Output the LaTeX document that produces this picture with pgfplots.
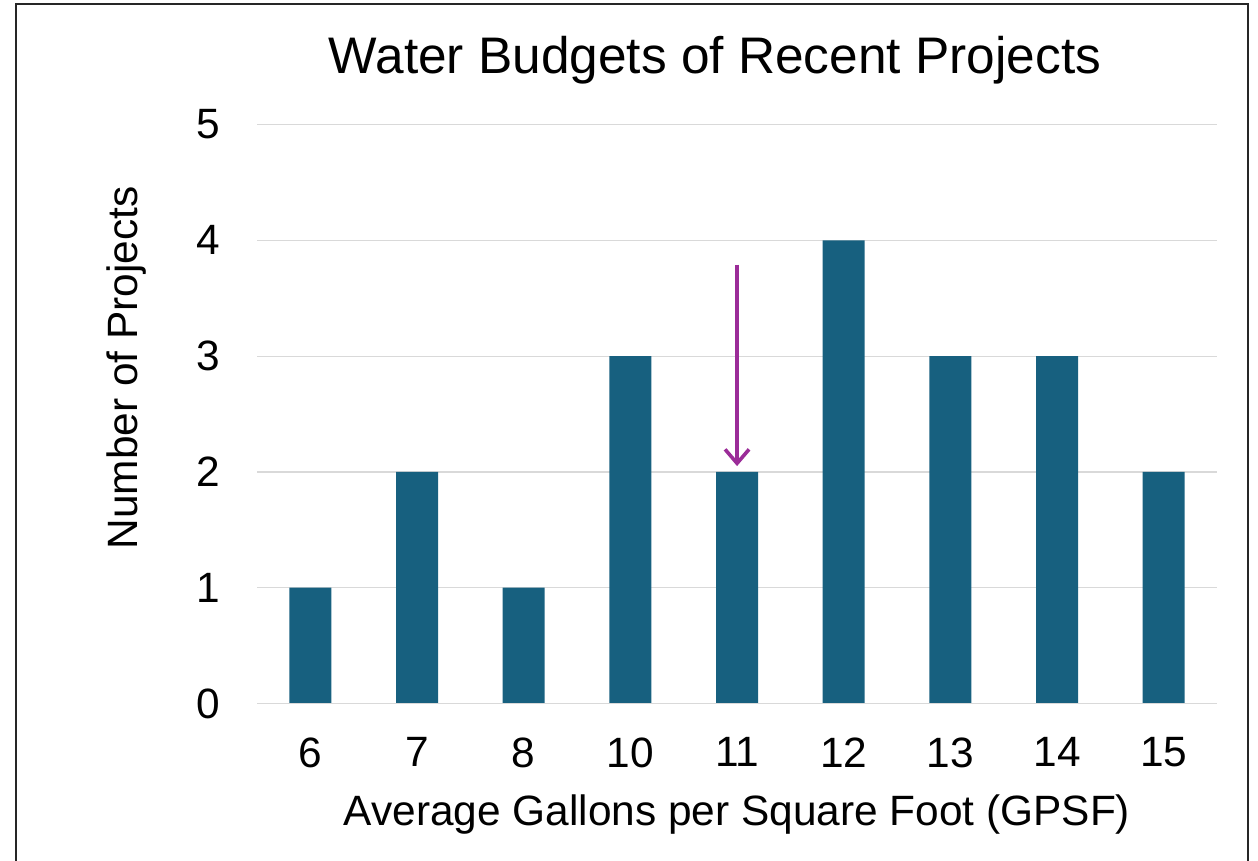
\documentclass[border=0pt]{standalone}
\usepackage{pgfplots}
\pgfplotsset{compat=1.18}
\usepackage{fontspec}
\setmainfont{Liberation Sans}
\usetikzlibrary{arrows.meta}
\definecolor{barblue}{HTML}{17607F}
\definecolor{gridgray}{HTML}{D9D9D9}
\definecolor{arrowpurple}{HTML}{9B2C98}
\begin{document}
\begin{tikzpicture}[x=0.5pt,y=0.5pt]
\useasboundingbox (0,0) rectangle (1258,861);
\draw[line width=1.2pt,black!85] (16,0) -- (16,857) -- (1248,857) -- (1248,0);
\node[font=\fontsize{25.7}{30}\selectfont] at (715,801) {Water Budgets of Recent Projects};
\node[font=\fontsize{21.2}{25}\selectfont,rotate=90] at (127,493) {Number of Projects};
\node[font=\fontsize{21.2}{25}\selectfont] at (737,46) {Average Gallons per Square Foot (GPSF)};
\begin{axis}[
  at={(241,136)}, anchor=south west,
  scale only axis,
  width=480pt, height=289.5pt,
  xmin=-0.5, xmax=8.5, ymin=0, ymax=5,
  axis line style={draw=none},
  ymajorgrids, grid style={gridgray, line width=0.6pt},
  major tick length=0pt,
  xtick=data,
  xticklabels={6,7,8,10,11,12,13,14,15},
  ytick={0,1,2,3,4,5},
  /pgf/number format/assume math mode=true,
  tick label style={font=\fontsize{21.2}{25}\selectfont},
  yticklabel style={xshift=-15pt},
  xticklabel style={yshift=-13.5pt},
  clip=false,
]
\addplot[ybar, bar width=21pt, fill=barblue, draw=none] coordinates {
 (0,1) (1,2) (2,1) (3,3) (4,2) (5,4) (6,3) (7,3) (8,2)
};
\draw[gridgray, line width=0.6pt] (axis cs:-0.5,0) -- (axis cs:8.5,0);
\draw[arrowpurple, line width=1.8pt, -{Straight Barb[length=7pt,width=12pt]}] (axis cs:4,3.79) -- (axis cs:4,2.05);
\end{axis}
\end{tikzpicture}
\end{document}
